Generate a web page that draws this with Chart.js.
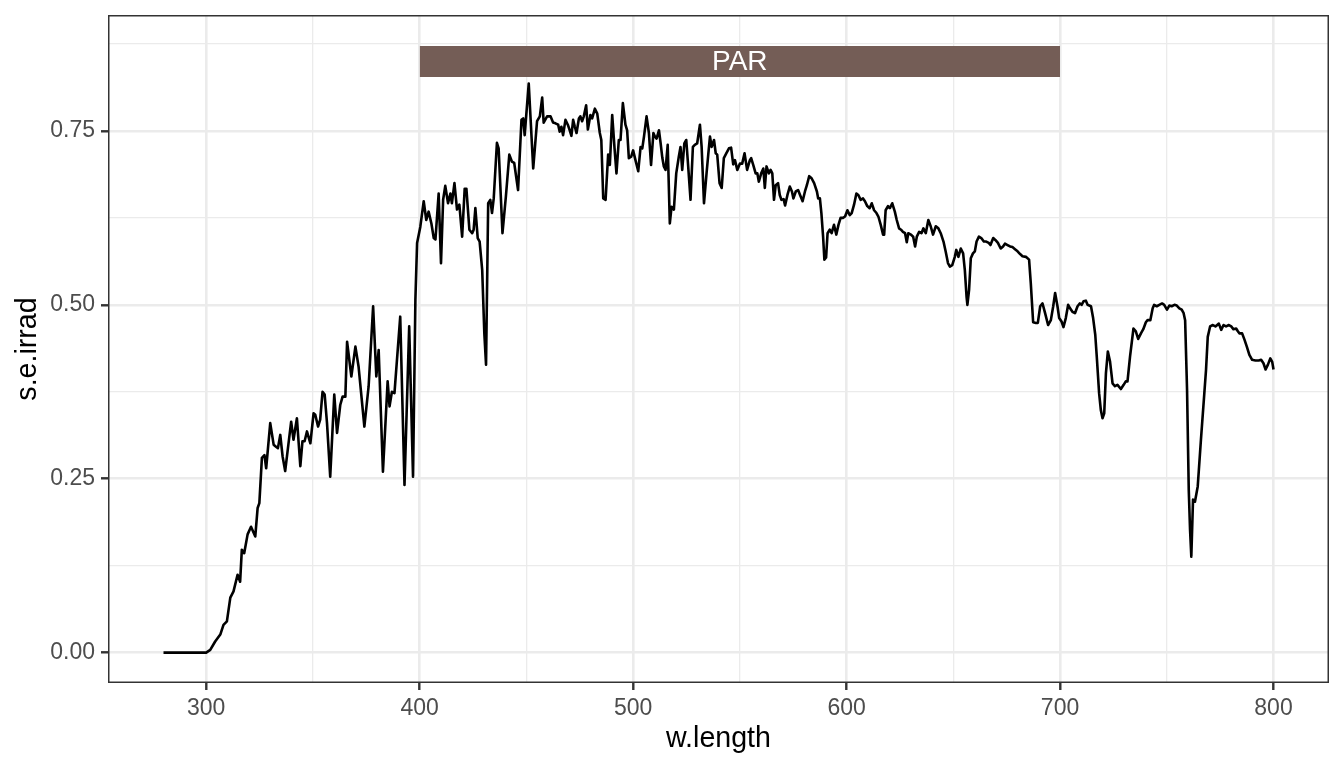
<!DOCTYPE html>
<html>
<head>
<meta charset="utf-8">
<script src="https://cdn.jsdelivr.net/npm/chart.js@4.4.0/dist/chart.umd.min.js"></script>
<style>
html,body{margin:0;padding:0;background:#ffffff;}
#wrap{width:1344px;height:768px;position:relative;}
</style>
</head>
<body>
<div id="wrap"><canvas id="c" width="1344" height="768"></canvas></div>
<script>
// Wavelength (nm) of each point of the spectrum
const wavelength = [
280,300,301.9,304.2,306.6,308.1,309.7,311.3,312.8,314.7,
315.9,316.7,317.8,319.4,321.0,323.0,324.1,324.9,326.1,327.3,
328.1,330.0,331.6,332.7,333.6,334.7,335.8,337.0,338.3,339.8,
340.9,342.5,344.1,345.1,346.1,347.2,348.8,350.3,351.1,352.4,
353.4,354.5,355.5,356.6,358.1,360.0,361.3,362.8,363.9,365.2,
366.0,368.0,369.9,371.4,374.1,376.1,378.2,379.7,380.8,382.8,
385.0,385.9,387.0,388.2,390.9,392.9,395.1,396.9,398.0,398.8,
400.3,401.9,403.1,404.2,405.5,406.6,407.4,408.9,410.0,411.0,
412.0,413.3,414.4,415.1,416.3,417.5,418.6,419.9,421.1,421.9,
423.3,424.6,425.3,426.1,427.2,428.1,429.3,430.3,431.1,432.1,
433.1,433.9,434.7,436.2,437.0,438.8,440.4,442.0,443.2,444.3,
446.1,447.7,448.5,449.2,451.1,453.2,455.0,456.3,457.4,458.1,
459.7,461.3,462.5,463.6,464.9,465.6,466.4,467.2,468.3,469.4,
470.3,471.1,471.9,472.7,473.5,474.6,475.3,476.1,476.9,478.0,
478.8,480.0,480.8,482.1,483.2,484.4,485.1,486.0,487.1,488.3,
489.1,490.2,491.3,492.2,493.3,494.1,495.2,496.4,497.2,498.0,
499.1,500.0,501.1,502.4,503.5,504.3,505.1,506.3,507.4,508.4,
509.5,510.2,511.0,512.1,512.9,513.7,514.4,515.2,516.2,517.2,
518.0,519.1,520.2,521.4,522.2,523.0,524.0,524.9,525.8,526.9,
528.0,528.9,530.0,531.3,532.1,533.2,534.4,535.2,536.0,536.8,
537.9,538.7,539.4,540.5,541.5,542.5,543.7,544.9,545.9,546.9,
547.7,548.8,550.0,551.1,552.2,553.4,554.7,555.3,556.3,557.4,
558.2,558.9,560.0,561.0,561.7,562.5,563.6,564.4,565.2,566.0,
566.8,567.9,568.7,569.5,570.5,571.2,572.3,573.4,574.4,575.1,
576.2,577.3,578.2,579.4,580.5,581.4,582.5,583.6,584.8,586.1,
586.7,587.5,588.2,589.0,589.6,590.4,591.1,592.1,593.0,594.1,
595.2,596.2,597.2,598.3,599.3,600.4,601.5,602.4,603.5,604.6,
605.5,606.6,607.7,608.6,609.7,610.8,611.8,612.9,614.0,614.9,
616.0,617.1,617.6,618.3,619.4,620.3,621.4,622.6,623.5,624.6,
625.5,626.4,627.4,628.2,628.9,630.1,631.2,632.1,632.9,634.0,
635.1,636.0,637.1,638.3,639.4,640.5,641.8,643.0,644.1,645.4,
646.4,647.5,648.4,649.5,650.7,651.4,652.4,653.5,654.6,655.4,
656.2,656.6,657.4,658.2,659.2,660.1,660.9,662.0,663.1,664.3,
665.4,666.6,667.4,668.7,669.8,670.9,672.2,673.3,674.2,675.4,
676.6,677.7,678.9,680.1,681.3,682.4,684.0,685.5,686.3,687.4,
688.7,689.6,690.7,691.8,693.0,694.4,695.7,696.8,697.7,698.8,
699.6,700.7,701.6,702.7,703.8,704.7,705.8,707.0,708.2,709.3,
710.1,711.0,712.1,712.9,713.7,714.5,715.5,716.5,717.2,718.3,
719.1,719.9,720.7,721.5,722.4,723.4,724.6,725.7,726.9,728.5,
729.8,730.8,731.6,732.8,734.4,735.5,736.6,737.9,739.0,740.2,
741.0,742.3,743.4,744.1,745.3,746.5,747.8,748.8,750.1,751.2,
752.3,753.6,754.7,755.9,757.0,757.9,758.6,759.5,760.3,760.9,
761.5,762.3,763.2,764.5,766.0,767.6,768.4,769.2,770.3,771.6,
772.8,774.4,775.5,776.6,777.8,779.1,780.2,781.2,782.5,783.3,
784.0,785.3,786.4,787.5,788.7,790.0,791.5,793.1,794.2,795.3,
796.3,797.4,798.5,799.4,800.0
];

// Spectral energy irradiance (s.e.irrad) at each wavelength
const irradiance = [
0,0,0.004,0.016,0.026,0.040,0.045,0.079,0.088,0.112,
0.102,0.148,0.143,0.170,0.181,0.167,0.208,0.215,0.280,0.284,
0.265,0.330,0.299,0.296,0.294,0.313,0.282,0.261,0.294,0.332,
0.306,0.337,0.268,0.304,0.304,0.318,0.301,0.344,0.342,0.325,
0.335,0.375,0.371,0.330,0.253,0.371,0.316,0.356,0.368,0.368,
0.447,0.397,0.440,0.411,0.325,0.383,0.498,0.397,0.435,0.260,
0.390,0.354,0.375,0.373,0.483,0.241,0.469,0.253,0.507,0.589,
0.612,0.649,0.622,0.634,0.617,0.596,0.594,0.660,0.560,0.651,
0.671,0.646,0.660,0.646,0.675,0.637,0.644,0.598,0.667,0.667,
0.608,0.603,0.608,0.639,0.596,0.591,0.550,0.459,0.414,0.646,
0.651,0.632,0.653,0.733,0.725,0.603,0.656,0.716,0.706,0.704,
0.665,0.766,0.768,0.744,0.818,0.696,0.764,0.771,0.798,0.762,
0.771,0.771,0.762,0.761,0.759,0.749,0.756,0.744,0.766,0.759,
0.751,0.743,0.766,0.756,0.747,0.768,0.771,0.764,0.771,0.787,
0.752,0.773,0.768,0.782,0.775,0.747,0.737,0.653,0.651,0.716,
0.701,0.773,0.725,0.689,0.737,0.737,0.790,0.759,0.751,0.711,
0.713,0.722,0.708,0.692,0.727,0.725,0.742,0.771,0.747,0.701,
0.747,0.742,0.739,0.751,0.732,0.711,0.699,0.694,0.730,0.617,
0.641,0.637,0.689,0.713,0.727,0.694,0.732,0.737,0.699,0.651,
0.727,0.730,0.732,0.759,0.727,0.646,0.689,0.716,0.742,0.727,
0.737,0.718,0.716,0.675,0.668,0.711,0.718,0.725,0.726,0.702,
0.708,0.694,0.703,0.703,0.718,0.694,0.708,0.711,0.701,0.689,
0.689,0.677,0.689,0.696,0.668,0.699,0.689,0.694,0.689,0.651,
0.672,0.675,0.658,0.651,0.652,0.643,0.658,0.670,0.663,0.653,
0.663,0.665,0.658,0.649,0.663,0.672,0.685,0.682,0.675,0.663,
0.653,0.653,0.632,0.598,0.565,0.568,0.603,0.608,0.603,0.615,
0.601,0.615,0.625,0.625,0.627,0.636,0.629,0.632,0.644,0.660,
0.658,0.651,0.653,0.649,0.642,0.639,0.646,0.636,0.632,0.627,
0.615,0.601,0.601,0.636,0.642,0.639,0.646,0.634,0.622,0.610,
0.608,0.605,0.603,0.590,0.603,0.601,0.598,0.584,0.598,0.605,
0.603,0.610,0.603,0.622,0.613,0.601,0.613,0.610,0.603,0.591,
0.577,0.560,0.555,0.557,0.569,0.579,0.569,0.581,0.574,0.550,
0.512,0.500,0.522,0.567,0.574,0.577,0.591,0.598,0.596,0.591,
0.591,0.589,0.586,0.596,0.593,0.589,0.581,0.584,0.588,0.586,
0.584,0.583,0.580,0.577,0.573,0.570,0.569,0.565,0.531,0.475,
0.474,0.474,0.498,0.502,0.488,0.471,0.478,0.498,0.517,0.498,
0.481,0.476,0.468,0.481,0.500,0.495,0.490,0.488,0.498,0.502,
0.500,0.505,0.506,0.500,0.499,0.498,0.481,0.457,0.426,0.373,
0.349,0.337,0.344,0.402,0.433,0.419,0.387,0.383,0.385,0.379,
0.385,0.390,0.390,0.426,0.466,0.462,0.451,0.459,0.465,0.475,
0.478,0.478,0.495,0.500,0.498,0.500,0.502,0.500,0.493,0.499,
0.498,0.500,0.499,0.495,0.493,0.488,0.478,0.378,0.234,0.177,
0.138,0.220,0.217,0.239,0.306,0.373,0.407,0.454,0.469,0.471,
0.469,0.473,0.464,0.471,0.469,0.471,0.469,0.465,0.466,0.462,
0.459,0.459,0.450,0.440,0.428,0.421,0.420,0.420,0.421,0.416,
0.407,0.414,0.423,0.418,0.407
];

// PAR waveband annotation
const parBand = [400, 700];
const parLabel = "PAR";
const parYRange = [0.8276, 0.872];

// Axis ticks (major labelled, minor unlabelled)
const xMajorTicks = [300, 400, 500, 600, 700, 800];
const xMinorTicks = [350, 450, 550, 650, 750];
const yMajorTicks = [0, 0.25, 0.5, 0.75];
const yMinorTicks = [0.125, 0.375, 0.625, 0.875];
const yTickLabels = ["0.00", "0.25", "0.50", "0.75"];

const xLimits = [254, 826];
const yLimits = [-0.04365, 0.9167];

const FONT = '"Liberation Sans", Arial, sans-serif';
const GRID = '#EBEBEB';

const spectrum = wavelength.map((w, i) => ({x: w, y: irradiance[i]}));
const parData = parBand.map(w => ({x: w, y: parYRange[1]}));

function isIn(list, v) { return list.some(t => Math.abs(t - v) < 1e-9); }

const panelBorder = {
  id: 'panelBorder',
  afterDatasetsDraw(chart) {
    const {ctx, scales} = chart;
    ctx.save();
    ctx.fillStyle = '#ffffff';
    ctx.font = '28px ' + FONT;
    ctx.textAlign = 'center';
    ctx.textBaseline = 'middle';
    ctx.fillText(parLabel,
      scales.x.getPixelForValue((parBand[0] + parBand[1]) / 2),
      scales.y.getPixelForValue((parYRange[0] + parYRange[1]) / 2) + 1);
    ctx.restore();
  },
  afterDraw(chart) {
    const {ctx, chartArea: a} = chart;
    ctx.save();
    ctx.strokeStyle = '#333333';
    ctx.lineWidth = 1.5;
    ctx.strokeRect(a.left + 0.75, a.top + 0.75, a.right - a.left - 1.5, a.bottom - a.top - 1.5);
    ctx.restore();
  }
};

new Chart(document.getElementById('c'), {
  type: 'scatter',
  data: {
    datasets: [
      {
        type: 'line',
        data: parData,
        fill: {value: parYRange[0]},
        backgroundColor: '#745D56',
        borderWidth: 0,
        borderColor: 'rgba(0,0,0,0)',
        pointRadius: 0,
        order: 2
      },
      {
        type: 'line',
        data: spectrum,
        borderColor: '#000000',
        borderWidth: 2.6,
        borderJoinStyle: 'round',
        pointRadius: 0,
        fill: false,
        tension: 0,
        order: 1
      }
    ]
  },
  options: {
    responsive: false,
    animation: false,
    devicePixelRatio: 1,
    layout: {padding: {left: 0, top: 15, right: 15, bottom: 0}},
    plugins: {legend: {display: false}, tooltip: {enabled: false}},
    scales: {
      x: {
        type: 'linear',
        min: xLimits[0],
        max: xLimits[1],
        afterBuildTicks: s => { s.ticks = xMajorTicks.concat(xMinorTicks).sort((a, b) => a - b).map(v => ({value: v})); },
        afterFit: s => { s.height = 85; s.paddingLeft = 0; s.paddingRight = 0; },
        border: {display: false},
        grid: {
          color: GRID,
          lineWidth: c => (c.tick && isIn(xMajorTicks, c.tick.value)) ? 2.6 : 1.3,
          tickColor: c => (c.tick && isIn(xMajorTicks, c.tick.value)) ? '#333333' : 'rgba(0,0,0,0)',
          tickLength: 7,
          tickWidth: 2.4
        },
        ticks: {
          autoSkip: false,
          maxRotation: 0,
          padding: 5,
          color: '#4D4D4D',
          font: {family: FONT, size: 23},
          callback: v => isIn(xMajorTicks, v) ? String(v) : ''
        },
        title: {
          display: true,
          text: 'w.length',
          color: '#000000',
          font: {family: FONT, size: 28.6, lineHeight: 1},
          padding: {top: 0, bottom: 15}
        }
      },
      y: {
        type: 'linear',
        min: yLimits[0],
        max: yLimits[1],
        afterBuildTicks: s => { s.ticks = yMajorTicks.concat(yMinorTicks).sort((a, b) => a - b).map(v => ({value: v})); },
        afterFit: s => { s.width = 108; s.paddingTop = 0; s.paddingBottom = 0; },
        border: {display: false},
        grid: {
          color: GRID,
          lineWidth: c => (c.tick && isIn(yMajorTicks, c.tick.value)) ? 2.6 : 1.3,
          tickColor: c => (c.tick && isIn(yMajorTicks, c.tick.value)) ? '#333333' : 'rgba(0,0,0,0)',
          tickLength: 7,
          tickWidth: 2.4
        },
        ticks: {
          autoSkip: false,
          padding: 6,
          color: '#4D4D4D',
          font: {family: FONT, size: 23},
          callback: v => { const i = yMajorTicks.findIndex(t => Math.abs(t - v) < 1e-9); return i >= 0 ? yTickLabels[i] : ''; }
        },
        title: {
          display: true,
          text: 's.e.irrad',
          color: '#000000',
          font: {family: FONT, size: 28.6, lineHeight: 1},
          padding: {top: 14, bottom: 0}
        }
      }
    }
  },
  plugins: [panelBorder]
});
</script>
</body>
</html>
